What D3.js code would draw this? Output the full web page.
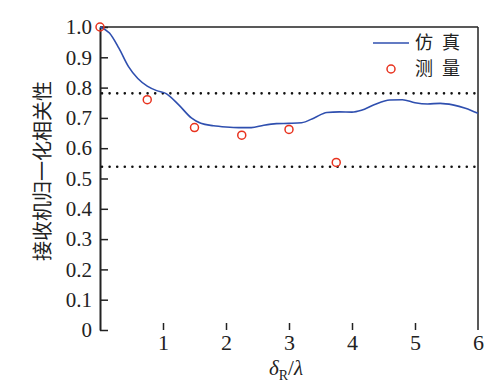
<!DOCTYPE html>
<html>
<head>
<meta charset="utf-8">
<script src="https://cdn.jsdelivr.net/npm/d3@7"></script>
<style>
  html, body { margin: 0; padding: 0; background: #fff; }
</style>
</head>
<body>
<div id="chart"></div>
<script>
// simulated curve (仿真)
const simX = [0, 0.15, 0.3, 0.45, 0.6, 0.75, 0.9, 1.05, 1.25, 1.45, 1.6, 1.8, 2.0, 2.2, 2.4, 2.6, 2.8, 3.0, 3.2, 3.4, 3.6, 3.8, 4.0, 4.15, 4.35, 4.6, 4.8, 5.0, 5.2, 5.4, 5.6, 5.8, 6.0];
const simY = [1.0, 0.98, 0.93, 0.87, 0.83, 0.805, 0.79, 0.78, 0.743, 0.70, 0.682, 0.674, 0.670, 0.668, 0.668, 0.676, 0.681, 0.682, 0.684, 0.700, 0.718, 0.720, 0.719, 0.725, 0.743, 0.759, 0.760, 0.750, 0.746, 0.748, 0.743, 0.732, 0.715];
// measured points (测量)
const measX = [0, 0.75, 1.5, 2.25, 3.0, 3.75];
const measY = [1.0, 0.76, 0.668, 0.643, 0.662, 0.553];
// dotted reference levels
const refLevels = [0.781, 0.539];
const xTicks = [1, 2, 3, 4, 5, 6];
const yTicks = [0, 0.1, 0.2, 0.3, 0.4, 0.5, 0.6, 0.7, 0.8, 0.9, 1.0];
const legendLabels = ["仿真", "测量"];

(function() {
  const width = 501, height = 392;
  const margin = { top: 27, right: 23, bottom: 62, left: 100 };
  const blue = "#2f4faf", red = "#e8321e";
  const serif = "'Liberation Serif', 'Times New Roman', serif";
  const cjk = "'Noto Sans CJK SC', sans-serif";

  const svg = d3.select("#chart").append("svg")
    .attr("width", width).attr("height", height);

  const x = d3.scaleLinear().domain([0, 6]).range([margin.left, width - margin.right]);
  const y = d3.scaleLinear().domain([0, 1]).range([height - margin.bottom, margin.top]);

  // left axis
  const yAxis = svg.append("g")
    .attr("transform", `translate(${margin.left},0)`)
    .call(d3.axisLeft(y).tickValues(yTicks).tickSizeInner(-8).tickSizeOuter(0).tickPadding(8)
      .tickFormat(d => d === 0 ? "0" : d3.format(".1f")(d)));
  yAxis.attr("font-family", null);
  yAxis.select(".domain").attr("stroke", "#222").attr("stroke-width", 2);
  yAxis.selectAll(".tick line").attr("stroke", "#222").attr("stroke-width", 1.5);
  yAxis.selectAll("text").style("font-family", serif).style("font-size", "21px").attr("fill", "#222");

  // bottom ticks, no axis line
  const xAxis = svg.append("g")
    .attr("transform", `translate(0,${height - margin.bottom})`)
    .call(d3.axisBottom(x).tickValues(xTicks).tickSizeInner(-7).tickSizeOuter(0).tickPadding(4)
      .tickFormat(d3.format("d")));
  xAxis.attr("font-family", null);
  xAxis.select(".domain").remove();
  xAxis.selectAll(".tick line").attr("stroke", "#222").attr("stroke-width", 1.5)
    .filter(d => d === 6).remove();
  xAxis.selectAll("text").style("font-family", serif).style("font-size", "22px").attr("fill", "#222");

  // top and right border
  svg.append("line").attr("x1", x(0)).attr("x2", x(6)).attr("y1", y(1)).attr("y2", y(1))
    .attr("stroke", "#222").attr("stroke-width", 1.5);
  svg.append("line").attr("x1", x(6)).attr("x2", x(6)).attr("y1", y(1)).attr("y2", y(0))
    .attr("stroke", "#222").attr("stroke-width", 1.5);

  // dotted levels
  svg.selectAll(".ref").data(refLevels).join("line")
    .attr("x1", x(0) + 2).attr("x2", x(6)).attr("y1", d => y(d)).attr("y2", d => y(d))
    .attr("stroke", "#111").attr("stroke-width", 2.6)
    .attr("stroke-linecap", "round").attr("stroke-dasharray", "0 7.6");

  // simulated curve
  const sim = simX.map((v, i) => [v, simY[i]]);
  svg.append("path").datum(sim)
    .attr("fill", "none").attr("stroke", blue).attr("stroke-width", 1.6)
    .attr("d", d3.line().x(d => x(d[0])).y(d => y(d[1])).curve(d3.curveMonotoneX));

  // measured
  const meas = measX.map((v, i) => [v, measY[i]]);
  svg.selectAll(".meas").data(meas).join("circle")
    .attr("cx", d => x(d[0])).attr("cy", d => y(d[1])).attr("r", 4)
    .attr("fill", "none").attr("stroke", red).attr("stroke-width", 1.5);

  // legend
  const lg = svg.append("g");
  lg.append("line").attr("x1", 373).attr("x2", 409).attr("y1", 43).attr("y2", 43)
    .attr("stroke", blue).attr("stroke-width", 1.6);
  lg.append("circle").attr("cx", 391).attr("cy", 69).attr("r", 4)
    .attr("fill", "none").attr("stroke", red).attr("stroke-width", 1.5);
  lg.selectAll("text").data(legendLabels).join("text")
    .attr("x", 415).attr("y", (d, i) => 43 + i * 26)
    .attr("dy", "0.35em")
    .style("font-family", cjk).style("font-size", "18px")
    .attr("letter-spacing", 9).attr("fill", "#222")
    .text(d => d);

  // y title
  svg.append("text")
    .attr("transform", `translate(43,${171}) rotate(-90)`)
    .attr("text-anchor", "middle").attr("dy", "0.35em")
    .style("font-family", cjk).style("font-size", "20px").attr("fill", "#222")
    .text("接收机归一化相关性");

  // x title: δR/λ
  const xt = svg.append("text")
    .attr("x", 286).attr("y", 375).attr("text-anchor", "middle")
    .style("font-family", serif).style("font-size", "21px").attr("fill", "#222");
  xt.append("tspan").attr("font-style", "italic").text("δ");
  xt.append("tspan").style("font-size", "14px").attr("dy", 5).text("R");
  xt.append("tspan").attr("dy", -5).text("/");
  xt.append("tspan").attr("font-style", "italic").text("λ");
})();
</script>
</body>
</html>
